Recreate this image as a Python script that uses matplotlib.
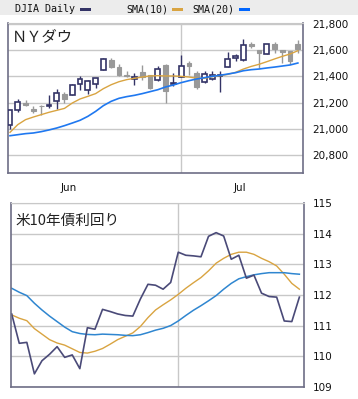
import numpy as np
import matplotlib
matplotlib.use('Agg')
import matplotlib.pyplot as plt
from matplotlib.patches import Rectangle
from matplotlib.ticker import FuncFormatter

# DJIA daily candles, 2017-06-01 .. 2017-07-25
dj_open = [21030, 21145, 21199, 21150, 21176, 21171, 21209, 21268, 21260, 21341,
           21298, 21344, 21446, 21522, 21471, 21413, 21380, 21435, 21408, 21375,
           21489, 21342, 21395, 21502, 21426, 21359, 21380, 21405, 21471, 21540,
           21527, 21645, 21599, 21573, 21647, 21599, 21591, 21647]
dj_high = [21145, 21229, 21222, 21176, 21183, 21260, 21303, 21280, 21340, 21400,
           21375, 21385, 21540, 21540, 21497, 21438, 21425, 21488, 21412, 21482,
           21493, 21425, 21566, 21515, 21438, 21438, 21443, 21443, 21586, 21573,
           21688, 21663, 21599, 21650, 21663, 21599, 21591, 21680]
dj_low = [20997, 21125, 21171, 21120, 21107, 21158, 21153, 21196, 21258, 21298,
          21268, 21311, 21446, 21464, 21400, 21395, 21336, 21375, 21305, 21367,
          21196, 21329, 21395, 21413, 21303, 21350, 21375, 21278, 21471, 21520,
          21520, 21620, 21464, 21573, 21578, 21502, 21497, 21578]
dj_close = [21145, 21204, 21183, 21133, 21174, 21183, 21273, 21227, 21336, 21380,
            21367, 21385, 21533, 21471, 21408, 21400, 21392, 21398, 21310, 21456,
            21285, 21346, 21476, 21482, 21316, 21418, 21413, 21410, 21533, 21558,
            21642, 21629, 21578, 21647, 21611, 21586, 21520, 21611]
dj_sma10 = [20972, 21031, 21069, 21089, 21107, 21125, 21140, 21155, 21196, 21227,
            21247, 21268, 21306, 21336, 21359, 21375, 21385, 21395, 21403, 21405,
            21403, 21403, 21400, 21395, 21385, 21385, 21397, 21405, 21415, 21431,
            21456, 21476, 21492, 21512, 21533, 21553, 21571, 21596]
dj_sma20 = [20946, 20954, 20962, 20967, 20977, 20990, 21005, 21023, 21043, 21064,
            21094, 21132, 21176, 21209, 21232, 21245, 21255, 21268, 21283, 21298,
            21319, 21334, 21352, 21367, 21380, 21390, 21400, 21408, 21418, 21428,
            21443, 21451, 21456, 21464, 21471, 21479, 21487, 21502]

# lower panel, 2017-06-01 .. 2017-07-25 (weekdays)
yld = [111.38, 110.42, 110.45, 109.42, 109.85, 110.06, 110.31, 109.96, 110.04, 109.59,
       110.93, 110.88, 111.53, 111.46, 111.38, 111.33, 111.31, 111.87, 112.35, 112.32,
       112.19, 112.41, 113.40, 113.30, 113.28, 113.25, 113.92, 114.04, 113.93, 113.17,
       113.30, 112.55, 112.65, 112.06, 111.95, 111.93, 111.15, 111.13, 111.93]
yld_sma10 = [111.35, 111.24, 111.16, 110.90, 110.72, 110.54, 110.43, 110.36, 110.24, 110.12,
             110.10, 110.16, 110.25, 110.39, 110.54, 110.65, 110.76, 110.97, 111.26, 111.51,
             111.68, 111.84, 112.02, 112.22, 112.40, 112.57, 112.79, 113.04, 113.20, 113.33,
             113.40, 113.40, 113.33, 113.20, 113.09, 112.95, 112.68, 112.38, 112.19]
yld_sma20 = [112.22, 112.09, 111.98, 111.73, 111.51, 111.31, 111.13, 110.95, 110.80, 110.74,
             110.71, 110.70, 110.72, 110.71, 110.70, 110.68, 110.67, 110.70, 110.77, 110.85,
             110.91, 111.00, 111.15, 111.33, 111.50, 111.65, 111.81, 111.98, 112.19, 112.38,
             112.53, 112.60, 112.66, 112.70, 112.73, 112.73, 112.73, 112.70, 112.68]

month_start = [0, 22]          # Jun 1, Jul 3
month_names = ['Jun', 'Jul']

NAVY = '#333366'
GRAY = '#999999'
ORANGE = '#d9a441'
BLUE = '#1f78f0'
BLUE2 = '#2f86d0'
GRID = '#c8c8c8'
SPINE = '#6e6e86'

fig = plt.figure(figsize=(3.58, 3.99), dpi=100)

# legend strip on top
fig.patches.append(Rectangle((0, 1 - 15 / 399), 1, 15 / 399, transform=fig.transFigure,
                             facecolor='#ececec', edgecolor='none', zorder=0))
mono = dict(family='DejaVu Sans Mono', fontsize=7.2, color='#111111', va='center')
ly = 1 - 9 / 399
fig.text(15 / 358, ly, 'DJIA Daily', **mono)
fig.text(126 / 358, ly, 'SMA(10)', **mono)
fig.text(192 / 358, ly, 'SMA(20)', **mono)
for x0, c in [(80, NAVY), (172, ORANGE), (239, '#0066ff')]:
    fig.patches.append(Rectangle((x0 / 358, ly - 1.5 / 399), 11 / 358, 3 / 399,
                                 transform=fig.transFigure, facecolor=c, edgecolor='none'))


def style_axes(ax):
    ax.grid(True, color=GRID, lw=1)
    ax.set_axisbelow(True)
    for s in ['left', 'bottom', 'right']:
        ax.spines[s].set_color(SPINE)
        ax.spines[s].set_linewidth(1.2)
    ax.spines['top'].set_color(GRID)
    ax.yaxis.tick_right()
    ax.tick_params(axis='y', length=0, pad=6.5, labelsize=7.5, labelcolor='#111111')
    ax.tick_params(axis='x', length=0)


# ---- upper panel: DJIA candles
ax1 = fig.add_axes([8 / 358, (399 - 173) / 399, 295 / 358, 150 / 399])
style_axes(ax1)
idx = np.arange(len(dj_close))
o = np.array(dj_open)
c = np.array(dj_close)
up = c >= o
ax1.vlines(idx[up], np.array(dj_low)[up], np.array(dj_high)[up], color=NAVY, lw=1, zorder=2)
ax1.vlines(idx[~up], np.array(dj_low)[~up], np.array(dj_high)[~up], color=GRAY, lw=1, zorder=2)
ax1.bar(idx[up], np.maximum(c - o, 2)[up], bottom=o[up], width=0.62,
        facecolor='white', edgecolor=NAVY, lw=1.2, zorder=3)
ax1.bar(idx[~up], (o - c)[~up], bottom=c[~up], width=0.62,
        facecolor=GRAY, edgecolor=GRAY, lw=0.8, zorder=3)
ax1.plot(idx, dj_sma10, color=ORANGE, lw=1, zorder=4)
ax1.plot(idx, dj_sma20, color=BLUE, lw=1.2, zorder=4)
ax1.set_xlim(-0.26, 37.66)
ax1.set_ylim(20661, 21808)
ax1.set_yticks(np.arange(20800, 21801, 200))
ax1.yaxis.set_major_formatter(FuncFormatter(lambda v, p: f'{v:,.0f}'))
ax1.set_xticks(month_start[1:])
ax1.set_xticklabels([])
ax1.set_xticks([m + 7.6 for m in month_start], minor=True)
ax1.set_xticklabels(month_names, minor=True)
ax1.tick_params(axis='x', which='minor', length=0, pad=7, labelsize=7.5, labelcolor='#111111')
ax1.text(0.012, 0.91, 'ＮＹダウ', transform=ax1.transAxes, fontsize=11,
         family=['Noto Sans CJK JP', 'DejaVu Sans'], color='#222222', va='center')

# ---- lower panel
ax2 = fig.add_axes([10.7 / 358, 12.3 / 399, 293.3 / 358, 183.4 / 399])
style_axes(ax2)
j = np.arange(len(yld))
ax2.plot(j, yld_sma10, color=ORANGE, lw=1)
ax2.plot(j, yld_sma20, color=BLUE2, lw=1.1)
ax2.plot(j, yld, color='#4a4a78', lw=1.2)
ax2.set_xlim(-0.13, 38.61)
ax2.set_ylim(109, 115)
ax2.set_yticks(np.arange(109, 116, 1))
ax2.set_xticks(month_start[1:])
ax2.set_xticklabels([])
ax2.text(0.015, 0.903, '米10年債利回り', transform=ax2.transAxes, fontsize=10.5,
         family=['Noto Sans CJK JP', 'DejaVu Sans'], color='#222222', va='center')

fig.savefig('out.png', dpi=100)
